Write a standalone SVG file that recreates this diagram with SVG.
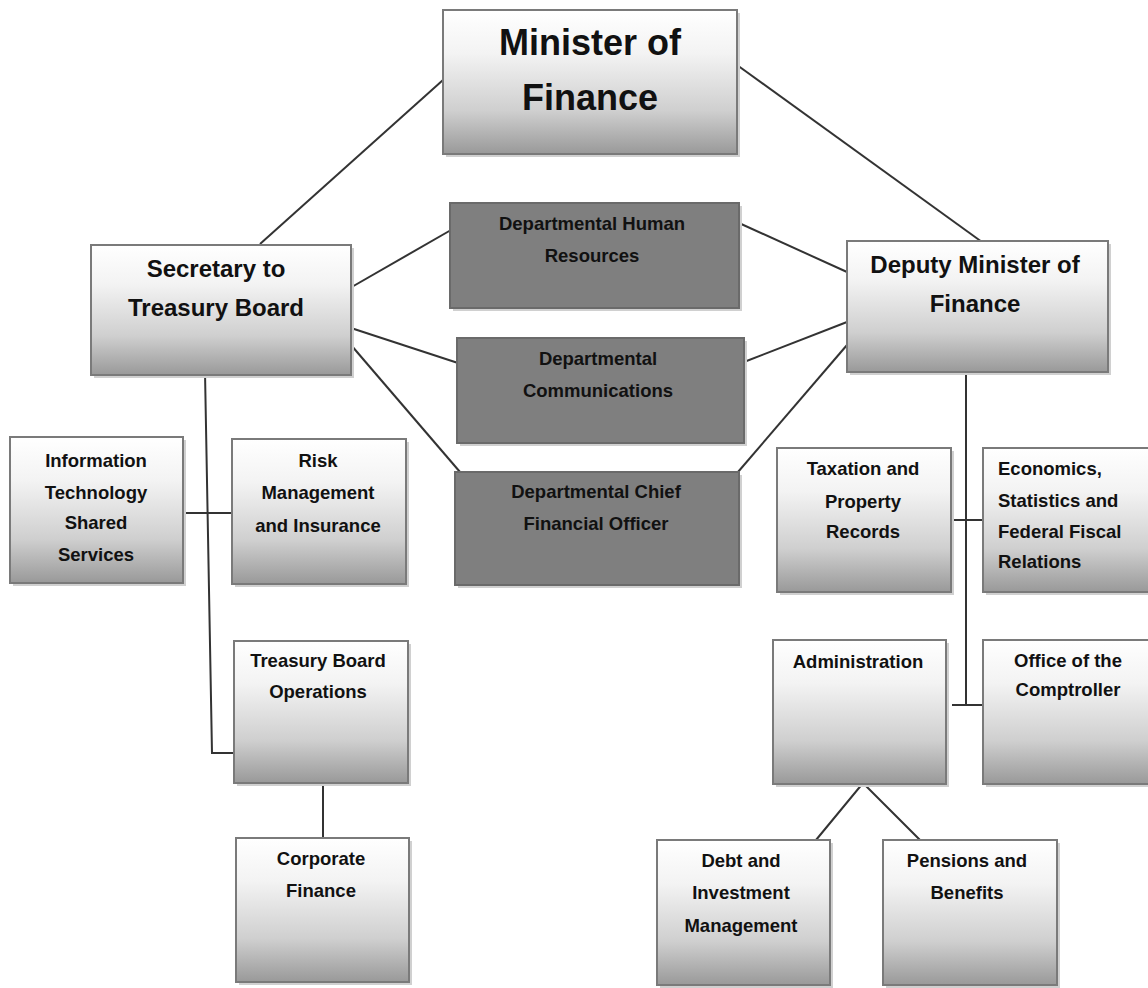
<svg xmlns="http://www.w3.org/2000/svg" width="1148" height="988" viewBox="0 0 1148 988">
<defs>
<linearGradient id="g" x1="0" y1="0" x2="0" y2="1">
<stop offset="0" stop-color="#ffffff"/>
<stop offset="0.3" stop-color="#f3f3f3"/>
<stop offset="0.7" stop-color="#cfcfcf"/>
<stop offset="1" stop-color="#999999"/>
</linearGradient>
<style>
.box{fill:url(#g);stroke:#7a7a7a;stroke-width:2}
.dark{fill:#7f7f7f;stroke:#6a6a6a;stroke-width:2}
.sh{fill:#d0d0d0}
.c{stroke:#333;stroke-width:2;fill:none}
text{font-family:"Liberation Sans",Arial,sans-serif;font-weight:bold;fill:#111;text-anchor:middle}
.big{font-size:36px}
.mid{font-size:24px}
.dk{font-size:18.5px}
.sm{font-size:18.5px}
.l{text-anchor:start}
</style>
</defs>
<rect width="1148" height="988" fill="#fff"/>
<g id="connectors">
<line class="c" x1="443" y1="80" x2="260" y2="244"/>
<line class="c" x1="737" y1="65" x2="982" y2="242"/>
<line class="c" x1="350" y1="288" x2="451" y2="230"/>
<line class="c" x1="351" y1="328" x2="458" y2="363"/>
<line class="c" x1="351" y1="345" x2="460" y2="472"/>
<line class="c" x1="739" y1="223" x2="847" y2="272"/>
<line class="c" x1="744" y1="362" x2="847" y2="322"/>
<line class="c" x1="738" y1="472" x2="847" y2="345"/>
<polyline class="c" points="205,372 212,753 234,753"/>
<line class="c" x1="183" y1="513" x2="232" y2="513"/>
<line class="c" x1="323" y1="783" x2="323" y2="838"/>
<line class="c" x1="966" y1="372" x2="966" y2="705"/>
<line class="c" x1="951" y1="520" x2="983" y2="520"/>
<line class="c" x1="952" y1="705" x2="983" y2="705"/>
<polyline class="c" points="816,840 863,783 920,840"/>
</g>
<g id="minister">
<rect class="sh" x="446" y="13" width="294" height="144"/>
<rect class="box" x="443" y="10" width="294" height="144"/>
<text class="big" x="590" y="55">Minister of</text>
<text class="big" x="590" y="110">Finance</text>
</g>
<g id="secretary">
<rect class="sh" x="94" y="248" width="260" height="130"/>
<rect class="box" x="91" y="245" width="260" height="130"/>
<text class="mid" x="216" y="277">Secretary to</text>
<text class="mid" x="216" y="316">Treasury Board</text>
</g>
<g id="deputy">
<rect class="sh" x="850" y="244" width="261" height="131"/>
<rect class="box" x="847" y="241" width="261" height="131"/>
<text class="mid" x="975" y="273">Deputy Minister of</text>
<text class="mid" x="975" y="312">Finance</text>
</g>
<g id="dhr">
<rect class="sh" x="453" y="206" width="289" height="105"/>
<rect class="dark" x="450" y="203" width="289" height="105"/>
<text class="dk" x="592" y="230">Departmental Human</text>
<text class="dk" x="592" y="262">Resources</text>
</g>
<g id="dcomm">
<rect class="sh" x="460" y="341" width="287" height="105"/>
<rect class="dark" x="457" y="338" width="287" height="105"/>
<text class="dk" x="598" y="365">Departmental</text>
<text class="dk" x="598" y="397">Communications</text>
</g>
<g id="dcfo">
<rect class="sh" x="458" y="475" width="284" height="113"/>
<rect class="dark" x="455" y="472" width="284" height="113"/>
<text class="dk" x="596" y="498">Departmental Chief</text>
<text class="dk" x="596" y="530">Financial Officer</text>
</g>
<g id="it">
<rect class="sh" x="13" y="440" width="173" height="146"/>
<rect class="box" x="10" y="437" width="173" height="146"/>
<text class="sm" x="96" y="467">Information</text>
<text class="sm" x="96" y="499">Technology</text>
<text class="sm" x="96" y="529">Shared</text>
<text class="sm" x="96" y="561">Services</text>
</g>
<g id="risk">
<rect class="sh" x="235" y="442" width="174" height="145"/>
<rect class="box" x="232" y="439" width="174" height="145"/>
<text class="sm" x="318" y="467">Risk</text>
<text class="sm" x="318" y="499">Management</text>
<text class="sm" x="318" y="532">and Insurance</text>
</g>
<g id="tbops">
<rect class="sh" x="237" y="644" width="174" height="142"/>
<rect class="box" x="234" y="641" width="174" height="142"/>
<text class="sm" x="318" y="667">Treasury Board</text>
<text class="sm" x="318" y="698">Operations</text>
</g>
<g id="corporate">
<rect class="sh" x="239" y="841" width="173" height="144"/>
<rect class="box" x="236" y="838" width="173" height="144"/>
<text class="sm" x="321" y="865">Corporate</text>
<text class="sm" x="321" y="897">Finance</text>
</g>
<g id="taxation">
<rect class="sh" x="780" y="451" width="174" height="144"/>
<rect class="box" x="777" y="448" width="174" height="144"/>
<text class="sm" x="863" y="475">Taxation and</text>
<text class="sm" x="863" y="508">Property</text>
<text class="sm" x="863" y="538">Records</text>
</g>
<g id="economics">
<rect class="sh" x="986" y="451" width="180" height="144"/>
<rect class="box" x="983" y="448" width="180" height="144"/>
<text class="sm l" x="998" y="475">Economics,</text>
<text class="sm l" x="998" y="507">Statistics and</text>
<text class="sm l" x="998" y="538">Federal Fiscal</text>
<text class="sm l" x="998" y="568">Relations</text>
</g>
<g id="administration">
<rect class="sh" x="776" y="643" width="173" height="144"/>
<rect class="box" x="773" y="640" width="173" height="144"/>
<text class="sm" x="858" y="668">Administration</text>
</g>
<g id="comptroller">
<rect class="sh" x="986" y="643" width="180" height="144"/>
<rect class="box" x="983" y="640" width="180" height="144"/>
<text class="sm" x="1068" y="667">Office of the</text>
<text class="sm" x="1068" y="696">Comptroller</text>
</g>
<g id="debt">
<rect class="sh" x="660" y="843" width="173" height="145"/>
<rect class="box" x="657" y="840" width="173" height="145"/>
<text class="sm" x="741" y="867">Debt and</text>
<text class="sm" x="741" y="899">Investment</text>
<text class="sm" x="741" y="932">Management</text>
</g>
<g id="pensions">
<rect class="sh" x="886" y="843" width="174" height="145"/>
<rect class="box" x="883" y="840" width="174" height="145"/>
<text class="sm" x="967" y="867">Pensions and</text>
<text class="sm" x="967" y="899">Benefits</text>
</g>
</svg>
